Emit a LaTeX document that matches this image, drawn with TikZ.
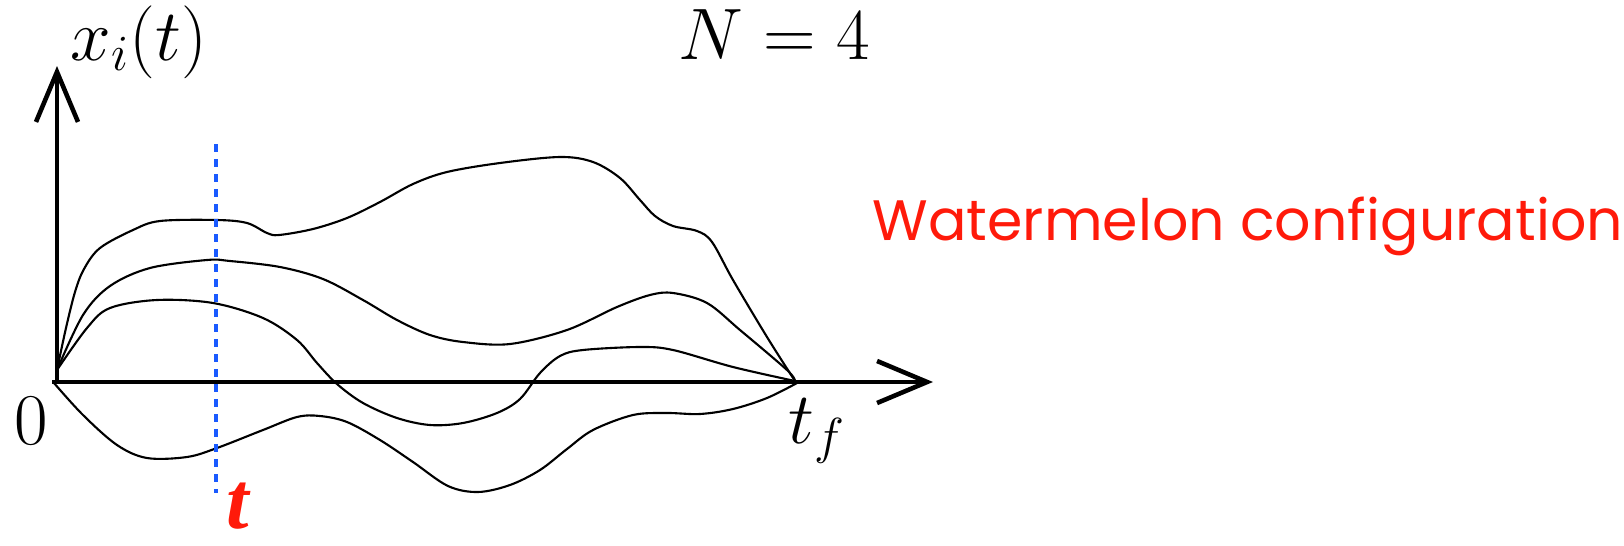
\documentclass[tikz,border=0pt]{standalone}
\usepackage{amsmath}
\usepackage{fontspec}
\newfontfamily\handfont{Poppins}
\newfontfamily\timesfont{Liberation Serif}
\usepackage{tikz}
\usetikzlibrary{arrows.meta}
\definecolor{melonred}{RGB}{255,26,10}
\definecolor{cutblue}{RGB}{25,90,255}
\tikzstyle{axis} = [line width=1.3pt, -{Straight Barb[length=0.5cm, width=0.42cm]}]
\tikzstyle{walker} = [line width=0.6pt, smooth, tension=0.55]
\tikzstyle{cutline} = [cutblue, line width=1.05pt, dash pattern=on 0.08cm off 0.07cm]
\tikzstyle{lbl} = [anchor=base west, inner sep=0pt]

\begin{document}
\begin{tikzpicture}[x=0.01cm, y=-0.01cm, every node/.style={font=\fontsize{19.3}{23}\selectfont}]
    \useasboundingbox (0,0) rectangle (1624,545);
    \coordinate (O) at (57,382);
    \coordinate (xstart) at (52,382);
    \coordinate (xtip) at (933,382);
    \coordinate (ytip) at (57,66);
    \coordinate (ttop) at (216,144);
    \coordinate (tbot) at (216,493);

    \draw[axis] (xstart) -- (xtip);
    \draw[axis] (O) -- (ytip);

    \draw[walker] plot coordinates {(57,370) (66,328) (75,292) (84,269) (100,248) (133,230) (160,221) (217,220) (247,223) (267,233) (279,235) (313,229) (347,218) (380,202) (413,184) (447,172) (500,163) (560,157) (593,162) (620,178) (640,200) (655,216) (673,226) (697,231) (712,242) (733,280) (767,337) (795,381)};
    \draw[walker] plot coordinates {(57,370) (83,315) (110,286) (150,268) (207,260) (230,261) (280,267) (323,279) (363,300) (397,320) (430,335) (463,342) (510,344) (567,330) (617,307) (650,295) (673,293) (707,303) (740,330) (787,370) (795,381)};
    \draw[walker] plot coordinates {(57,370) (87,328) (110,308) (157,300) (213,303) (263,318) (297,340) (317,363) (337,384) (363,403) (397,418) (430,425) (463,423) (497,413) (520,399) (540,373) (560,356) (583,350) (640,347) (673,350) (733,367) (795,381)};
    \draw[walker] plot coordinates {(54,383) (83,415) (117,445) (147,458) (187,457) (217,448) (263,430) (297,417) (320,416) (347,422) (380,440) (413,462) (448,486) (478,492) (510,485) (540,470) (567,449) (593,430) (633,415) (667,413) (700,414) (733,409) (767,398) (797,383)};

    \draw[cutline] (ttop) -- (tbot);

    \node[lbl] (xlab) at (70,60) {$x_i(t)$};
    \node[lbl] (nlab) at (678,59) {$N=4$};
    \node[lbl] (zero) at (14,444) {$0$};
    \node[lbl] (tflab) at (788,443) {$t_f$};
    \node[lbl, text=melonred, font=\timesfont\bfseries\itshape\fontsize{23}{25}\selectfont] (tcut) at (226,528) {t};
    \node[lbl, text=melonred, font=\handfont\fontsize{16.2}{20}\selectfont] (title) at (872,240) {Watermelon configuration};
\end{tikzpicture}
\end{document}
